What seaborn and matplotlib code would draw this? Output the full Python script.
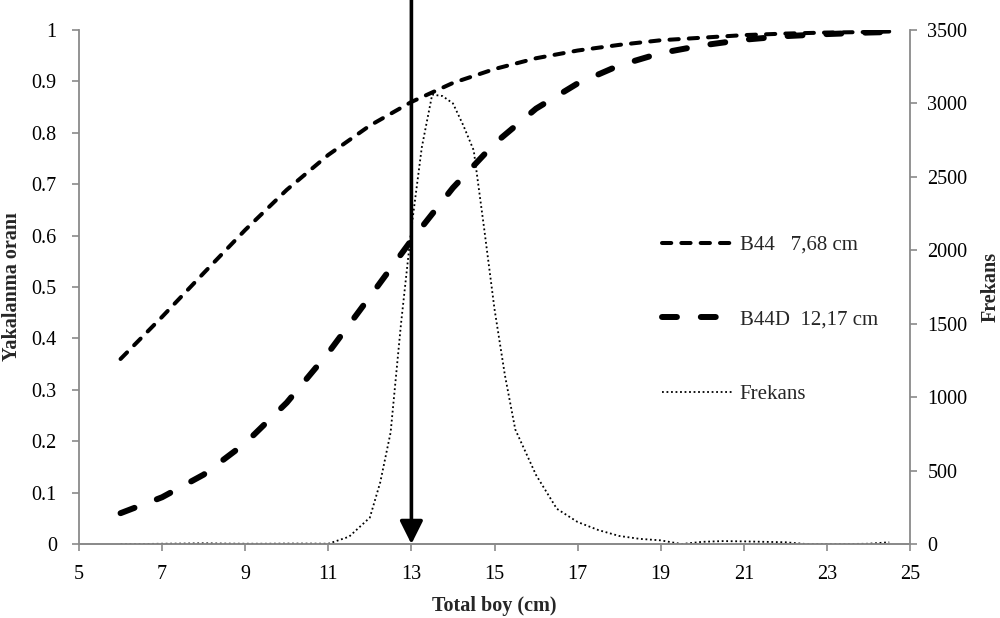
import numpy as np
import pandas as pd
import matplotlib
matplotlib.use("Agg")
import matplotlib.pyplot as plt
import seaborn as sns

# ---- data ----
length_sel = [6, 7, 8, 9, 10, 11, 12, 13, 14, 15, 16, 17, 18, 19, 20, 21, 22, 23, 24, 24.5]
b44 = [0.360, 0.442, 0.527, 0.611, 0.689, 0.757, 0.814, 0.860, 0.897, 0.924,
       0.945, 0.960, 0.971, 0.980, 0.985, 0.990, 0.993, 0.995, 0.996, 0.997]
b44d = [0.060, 0.091, 0.135, 0.196, 0.275, 0.372, 0.481, 0.591, 0.693, 0.779,
        0.847, 0.896, 0.931, 0.955, 0.970, 0.981, 0.988, 0.992, 0.995, 0.996]

length_freq = [6, 6.5, 7, 7.5, 8, 8.5, 9, 9.5, 10, 10.5, 11, 11.5, 12, 12.25, 12.5, 12.75,
               13, 13.25, 13.5, 13.75, 14, 14.25, 14.5, 14.75, 15, 15.25, 15.5, 16, 16.5,
               17, 17.5, 18, 18.5, 19, 19.5, 20, 20.5, 21, 21.5, 22, 22.5, 23, 23.5, 24, 24.5]
frekans = [0, 0, 2, 3, 5, 3, 2, 2, 3, 3, 2, 50, 180, 420, 760, 1500,
           2150, 2700, 3060, 3050, 3000, 2850, 2680, 2150, 1600, 1150, 780, 470, 240,
           150, 95, 55, 35, 25, 0, 15, 20, 18, 15, 12, 0, 0, 0, 2, 12]

x_ticks = [5, 7, 9, 11, 13, 15, 17, 19, 21, 23, 25]
y_ticks = [0, 0.1, 0.2, 0.3, 0.4, 0.5, 0.6, 0.7, 0.8, 0.9, 1]
y_tick_labels = ["0", "0.1", "0.2", "0.3", "0.4", "0.5", "0.6", "0.7", "0.8", "0.9", "1"]
y2_ticks = [0, 500, 1000, 1500, 2000, 2500, 3000, 3500]
l50_mark = 13

labels = ["B44   7,68 cm", "B44D  12,17 cm", "Frekans"]

sel_df = pd.DataFrame({"x": length_sel, "b44": b44, "b44d": b44d})
freq_df = pd.DataFrame({"x": length_freq, "f": frekans})

sns.set_style("white")
plt.rcParams["font.family"] = ["Liberation Serif", "DejaVu Serif"]
plt.rcParams["font.size"] = 14

fig = plt.figure(figsize=(10, 6.18), dpi=100)
ax = fig.add_axes([0.079, 0.1197, 0.831, 0.8318])
ax2 = ax.twinx()

gray = "#8a8a8a"

sns.lineplot(data=sel_df, x="x", y="b44", ax=ax, color="black", lw=2.9,
             linestyle=(0, (2.3, 2.5)), dash_capstyle="round", label=labels[0])
sns.lineplot(data=sel_df, x="x", y="b44d", ax=ax, color="black", lw=4.3,
             linestyle=(0, (2.5, 4.0)), dash_capstyle="round", label=labels[1])
sns.lineplot(data=freq_df, x="x", y="f", ax=ax2, color="black", lw=1.3,
             linestyle=(0, (1, 1.5)), label=labels[2])

ax.set_xlim(5, 25)
ax.set_ylim(0, 1)
ax2.set_ylim(0, 3500)
ax.set_xticks(x_ticks)
ax.set_yticks(y_ticks)
ax.set_yticklabels(y_tick_labels)
ax2.set_yticks(y2_ticks)

ax.set_xlabel("Total boy (cm)", fontsize=14.5, fontweight="bold", labelpad=9)
ax.set_ylabel("Yakalanma oranı", fontsize=14.5, fontweight="bold")
ax2.set_ylabel("Frekans", fontsize=14.5, fontweight="bold")
ax.yaxis.set_label_coords(-0.069, 0.5)
ax2.yaxis.set_label_coords(1.0845, 0.5)

for a in (ax, ax2):
    a.spines["top"].set_visible(False)
    for s in ("left", "right", "bottom"):
        a.spines[s].set_color(gray)
        a.spines[s].set_linewidth(1.3)
    a.tick_params(axis="both", which="both", direction="out", length=5, width=1.2,
                  color=gray, labelsize=14.5, labelcolor="black", pad=6)
ax.spines["right"].set_visible(False)
ax2.spines["left"].set_visible(False)
ax.tick_params(left=True, bottom=True)
ax.tick_params(axis="y", pad=11)
ax.tick_params(axis="x", pad=10)
ax2.tick_params(right=True, pad=7.5)

# arrow at x=13
ax.annotate("", xy=(l50_mark, 0), xytext=(l50_mark, 1.06), annotation_clip=False,
            arrowprops=dict(arrowstyle="-|>,head_length=1.0,head_width=0.5",
                            color="black", lw=2.6, shrinkA=0, shrinkB=0))

h1, l1 = ax.get_legend_handles_labels()
h2, l2 = ax2.get_legend_handles_labels()
if ax.get_legend():
    ax.get_legend().remove()
if ax2.get_legend():
    ax2.get_legend().remove()
ax2.legend(h1 + h2, l1 + l2, loc="center left", bbox_to_anchor=(0.6787, 0.436),
           frameon=False, fontsize=15, handlelength=3.45, labelspacing=2.65,
           handletextpad=0.3)

fig.savefig("out.png", dpi=100)
